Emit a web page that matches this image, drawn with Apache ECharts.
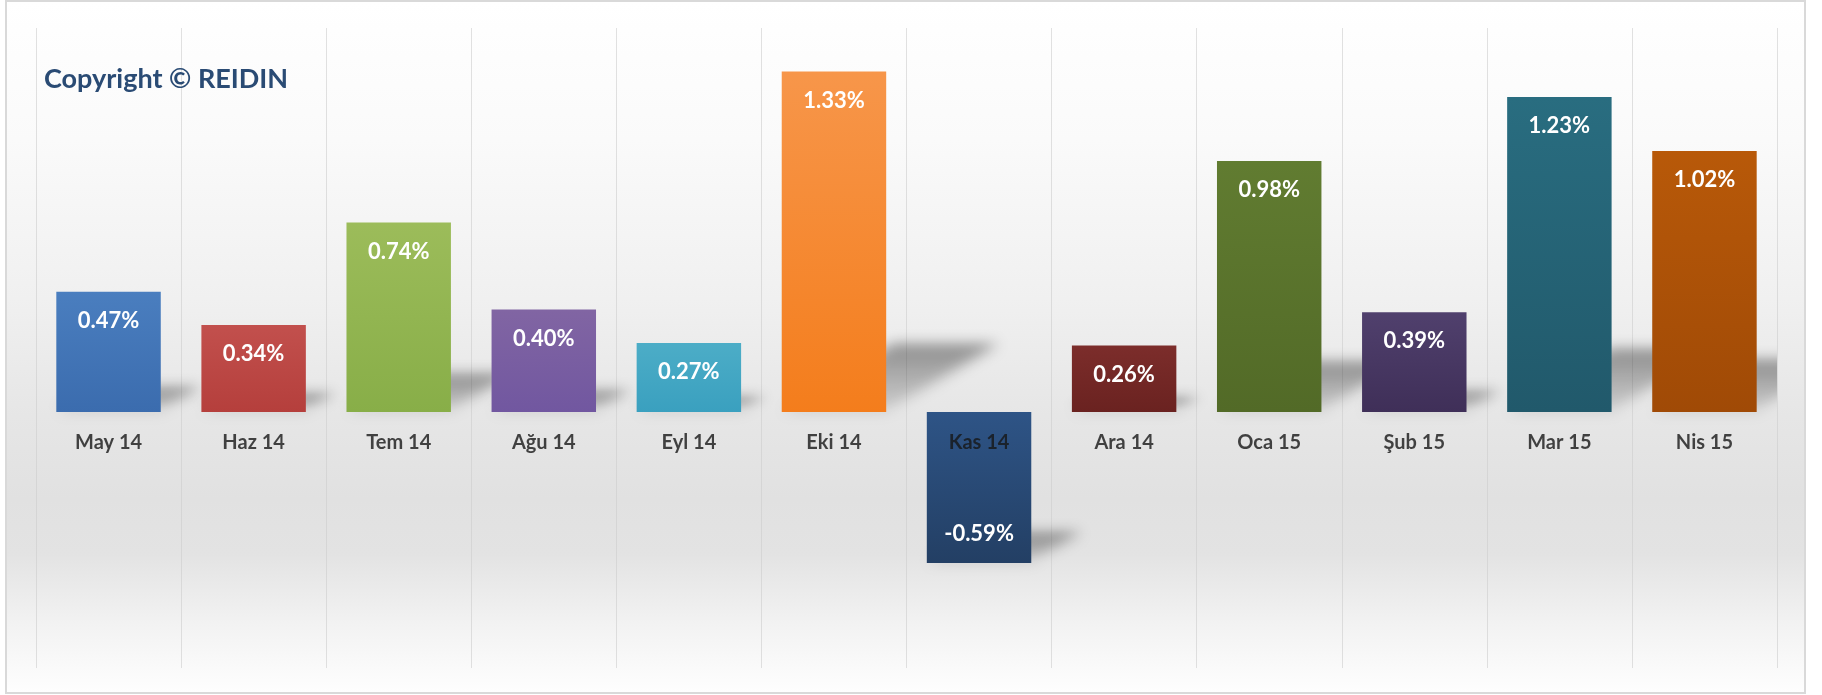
<!DOCTYPE html>
<html>
<head>
<meta charset="UTF-8">
<title>REIDIN</title>
<script src="https://cdn.jsdelivr.net/npm/echarts@6/dist/echarts.min.js"></script>
<style>
  body { margin: 0; background: #ffffff; }
  #frame {
    position: absolute; left: 5px; top: 0; width: 1801px; height: 694px;
    box-sizing: border-box; border: 2px solid #d9d9d9;
    background: linear-gradient(to bottom, #ffffff 0%, #fafafa 20%, #f0f0f0 43%, #e6e6e6 60%, #e1e1e1 72%, #e3e3e3 80%, #f2f2f2 90%, #fefefe 100%);
  }
  #main { position: absolute; left: 0; top: 0; width: 1822px; height: 695px; }
</style>
</head>
<body>
<div id="frame"></div>
<div id="main"></div>
<script type="text/javascript">
    // aylik degisim (%)
    var months = ['May 14', 'Haz 14', 'Tem 14', 'Ağu 14', 'Eyl 14', 'Eki 14', 'Kas 14', 'Ara 14', 'Oca 15', 'Şub 15', 'Mar 15', 'Nis 15'];
    var changes = [0.47, 0.34, 0.74, 0.40, 0.27, 1.33, -0.59, 0.26, 0.98, 0.39, 1.23, 1.02];

    // renkler: ust / alt
    var topColors = ['#4a7ebf', '#c2504d', '#9cbc5a', '#8165a3', '#4cadc7', '#f7964a', '#2e5486', '#7c2d2b', '#617c31', '#50406d', '#296d80', '#b85909'];
    var bottomColors = ['#3b6cae', '#b53f3c', '#88ae48', '#7157a0', '#3aa0bf', '#f47d1c', '#233f64', '#6a2220', '#526a27', '#3f2f58', '#21596b', '#a04a06'];

    var myChart = echarts.init(document.getElementById('main'));

    var barData = changes.map(function (v, i) {
        return {
            value: v,
            itemStyle: {
                color: new echarts.graphic.LinearGradient(0, 0, 0, 1, [
                    { offset: 0, color: topColors[i] },
                    { offset: 1, color: bottomColors[i] }
                ])
            },
            label: { position: v < 0 ? 'insideBottom' : 'insideTop' }
        };
    });

    // egik golge: sekil ekran disinda cizilir, sadece bulanik golgesi gorunur
    var SHIFT = 3000;
    function renderShadow(params, api) {
        var i = params.dataIndex;
        var v = api.value(1);
        var p0 = api.coord([i, 0]);
        var p1 = api.coord([i, v]);
        var w = api.size([1, 0])[0] * 0.72;
        var x0 = p0[0] - w / 2 - SHIFT, x1 = p0[0] + w / 2 - SHIFT;
        var h = Math.abs(p1[1] - p0[1]);
        var yb = Math.max(p0[1], p1[1]);
        var dx = h * 0.33, dy = h * 0.2;
        var cs = params.coordSys;
        return {
            type: 'group',
            clipPath: { type: 'rect', shape: { x: cs.x, y: cs.y, width: cs.width, height: cs.height } },
            children: [{
                type: 'polygon',
                shape: { points: [[x0, yb], [x1, yb], [x1 + dx, yb - dy], [x0 + dx, yb - dy]] },
                style: {
                    fill: new echarts.graphic.LinearGradient(0, 1, 0, 0, [
                        { offset: 0, color: 'rgba(0,0,0,0.25)' },
                        { offset: 1, color: 'rgba(0,0,0,1)' }
                    ]),
                    shadowBlur: 14,
                    shadowOffsetX: SHIFT,
                    shadowColor: 'rgba(0,0,0,0.4)'
                }
            }]
        };
    }

    myChart.setOption({
        title: {
            text: 'Copyright © REIDIN',
            left: 44,
            top: 66,
            padding: 0,
            textStyle: { fontFamily: 'Lato', fontWeight: 'bold', fontSize: 27, color: '#2a4b74' }
        },
        grid: { left: 36, right: 45, top: 28, bottom: 27, containLabel: false, outerBoundsMode: 'none' },
        xAxis: {
            type: 'category',
            data: months,
            axisLine: { show: false },
            axisTick: { show: false },
            axisLabel: { show: false },
            splitLine: { show: true, lineStyle: { color: 'rgba(205,205,205,0.6)', width: 1 } }
        },
        yAxis: {
            type: 'value',
            min: -1,
            max: 1.5,
            show: false,
            splitLine: { show: false }
        },
        series: [{
            type: 'custom',
            z: 1,
            silent: true,
            clip: false,
            renderItem: renderShadow,
            data: changes.map(function (v, i) { return [i, v]; })
        }, {
            type: 'bar',
            z: 2,
            barCategoryGap: '28%',
            data: barData,
            label: {
                show: true,
                distance: 18,
                fontFamily: 'Lato',
                fontWeight: 'bold',
                fontSize: 22,
                color: '#ffffff',
                formatter: function (p) { return p.value.toFixed(2) + '%'; }
            }
        }, {
            // ay etiketleri: sifir cizgisinin altinda, barlarin ustunde
            type: 'scatter',
            z: 10,
            silent: true,
            symbolSize: 0,
            data: months.map(function (m) { return [m, 0]; }),
            label: {
                show: true,
                position: 'bottom',
                distance: 21,
                fontFamily: 'Lato',
                fontWeight: 'bold',
                fontSize: 20,
                color: '#161616',
                formatter: function (p) { return p.value[0]; }
            }
        }]
    });
</script>
</body>
</html>
